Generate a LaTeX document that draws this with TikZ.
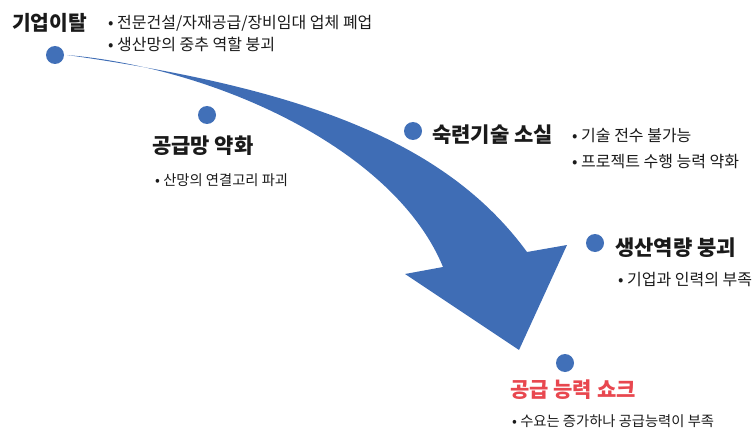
\documentclass[tikz,border=0pt]{standalone}
\usepackage{fontspec}
\setmainfont{Noto Sans CJK KR}
\definecolor{arrowblue}{HTML}{3F6DB5}
\definecolor{dotblue}{HTML}{4170B8}
\definecolor{shockred}{HTML}{E8474F}
\definecolor{txt}{HTML}{1A1A1A}
\begin{document}
\begin{tikzpicture}[x=1pt,y=-1pt,
  dot/.style={circle,fill=dotblue,inner sep=0pt,minimum size=18pt},
  title/.style={anchor=west,inner sep=0pt,font=\fontsize{21}{24}\selectfont\bfseries,text=txt},
  bullet/.style={anchor=west,inner sep=0pt,font=\fontsize{16}{19}\selectfont,text=txt},
  smallbullet/.style={anchor=west,inner sep=0pt,font=\fontsize{14.3}{17}\selectfont,text=txt}]
\useasboundingbox (0,0) rectangle (752,433);
% curved arrow
\fill[arrowblue] (67,55) .. controls (300,88) and (445,140) .. (527,252)
  -- (567,245) -- (519,350) -- (405,274) -- (443,267)
  .. controls (395,150) and (217,68) .. cycle;
% dots
\node[dot] (d1) at (55,55) {};
\node[dot] (d2) at (207,115) {};
\node[dot] (d3) at (413,131) {};
\node[dot] (d4) at (595,243) {};
\node[dot] (d5) at (565,363) {};
% texts
\node[title,font=\fontsize{20.3}{24}\selectfont\bfseries] (t1) at (12,23) {기업이탈};
\node[bullet] (b1a) at (108,23) {• 전문건설/자재공급/장비임대 업체 폐업};
\node[bullet] (b1b) at (108,44) {• 생산망의 중추 역할 붕괴};
\node[title] (t2) at (152,146) {공급망 약화};
\node[smallbullet] (b2a) at (155,180) {• 산망의 연결고리 파괴};
\node[title] (t3) at (432,135) {숙련기술 소실};
\node[bullet] (b3a) at (572,136) {• 기술 전수 불가능};
\node[bullet] (b3b) at (572,162) {• 프로젝트 수행 능력 약화};
\node[title] (t4) at (615,248) {생산역량 붕괴};
\node[bullet] (b4a) at (618,280) {• 기업과 인력의 부족};
\node[title,text=shockred] (t5) at (510,390) {공급 능력 쇼크};
\node[smallbullet] (b5a) at (512,421) {• 수요는 증가하나 공급능력이 부족};
\end{tikzpicture}
\end{document}
